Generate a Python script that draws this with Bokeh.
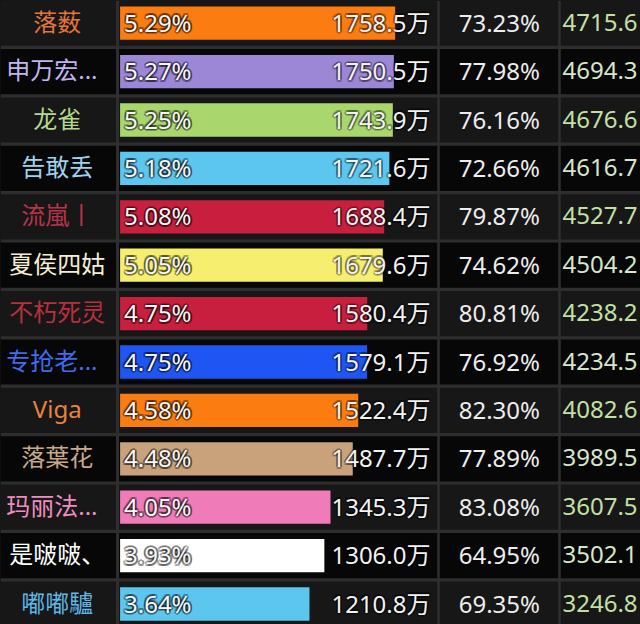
from bokeh.plotting import figure
from bokeh.models import Range1d, ColumnDataSource
from bokeh.embed import file_html
from bokeh.resources import INLINE
from bokeh.core.properties import value

# ---------------- data ----------------
names = ["落薮", "申万宏...", "龙雀", "告敢丢", "流嵐丨", "夏侯四姑", "不朽死灵",
         "专抢老...", "Viga", "落葉花", "玛丽法...", "是啵啵、", "嘟嘟驢"]
share = [5.29, 5.27, 5.25, 5.18, 5.08, 5.05, 4.75, 4.75, 4.58, 4.48, 4.05, 3.93, 3.64]
amount = [1758.5, 1750.5, 1743.9, 1721.6, 1688.4, 1679.6, 1580.4, 1579.1,
          1522.4, 1487.7, 1345.3, 1306.0, 1210.8]
rate = [73.23, 77.98, 76.16, 72.66, 79.87, 74.62, 80.81, 76.92, 82.30,
        77.89, 83.08, 64.95, 69.35]
last = [4715.6, 4694.3, 4676.6, 4616.7, 4527.7, 4504.2, 4238.2, 4234.5,
        4082.6, 3989.5, 3607.5, 3502.1, 3246.8]

name_colors = ["#e2743c", "#c2b4ee", "#b6d78e", "#9ed2ee", "#b8344a", "#f4efd2",
               "#b82f40", "#3f6df0", "#e8823e", "#c8a88a", "#ee8ec0", "#ffffff", "#5fb7e6"]
bar_colors = ["#fb7d12", "#9b87d6", "#a9d76e", "#5cc6ee", "#c91f3f", "#f6ee6e",
              "#c91f3f", "#1f56f3", "#fb7d12", "#c9a27c", "#ef7cb8", "#ffffff", "#5cc6ee"]

# ---------------- layout constants ----------------
W, H = 640, 624
X0 = 119.6        # pixel where bars start
SCALE = 0.1564    # pixels per 万
ROW0 = 22.7       # centre of first row, px
ROWH = 48.4       # row pitch, px
SEP = "#2e2e2e"
BG_EVEN = "#171717"
BG_ODD = "#070707"
FONT = "Noto Sans, Noto Sans CJK SC"


def dx(px):
    return (px - X0) / SCALE


n = len(names)
rows = list(range(n))

p = figure(width=W, height=H, output_backend="svg", toolbar_location=None,
           x_range=Range1d(dx(0), dx(W)),
           y_range=Range1d((H - ROW0) / ROWH, -ROW0 / ROWH),
           x_axis_location=None, y_axis_location=None, min_border=0)
p.grid.visible = False
p.outline_line_color = None
p.background_fill_color = SEP
p.border_fill_color = SEP

# cell backgrounds
col_edges = [(-10, 115.5), (118.5, 436.7), (439.3, 557.7), (560.3, 660)]
half = 0.5 - 1.6 / ROWH
cl, cr, ct, cb, cc = [], [], [], [], []
for i in rows:
    for a, b in col_edges:
        cl.append(dx(a)); cr.append(dx(b))
        ct.append(i - half); cb.append(i + half)
        cc.append(BG_EVEN if i % 2 == 0 else BG_ODD)
p.quad(left=cl, right=cr, top=ct, bottom=cb, fill_color=cc, line_color=None)

trunc = [nm.endswith("...") for nm in names]
src = ColumnDataSource(dict(
    y=rows,
    name=names,
    name_color=name_colors,
    bar_color=bar_colors,
    amount=amount,
    share_txt=[f"{v:.2f}%" for v in share],
    amount_txt=[f"{v:.1f}万" for v in amount],
    rate_txt=[f"{v:.2f}%" for v in rate],
    last_txt=[f"{v:.1f}" for v in last],
    last_color=["#c3e0a4" if i % 2 == 0 else "#d6e6c9" for i in rows],
    name_x=[dx(97) if t else dx(56.7) for t in trunc],
    name_align=["right" if t else "center" for t in trunc],
))

# bars
p.hbar(y="y", left=0, right="amount", height=33.3 / ROWH, fill_color="bar_color",
       line_color=None, source=src)

# names
p.text(x="name_x", y="y", text="name", text_color="name_color", text_align="name_align",
       text_baseline="middle", text_font=value(FONT), text_font_size="24px",
       y_offset=-2, source=src)

# soft shadows for texts drawn over the bars
offs = [(-2, 0), (2, 0), (0, -2), (0, 2), (-1.5, -1.5), (1.5, -1.5), (-1.5, 1.5), (1.5, 1.5)]
for ox, oy in offs:
    p.text(x=dx(123.5), y="y", text="share_txt", text_color="#000000", text_alpha=0.3,
           text_align="left", text_baseline="middle", text_font=value(FONT),
           text_font_size="24px", x_offset=ox, y_offset=oy - 1, source=src)
    p.text(x=dx(430), y="y", text="amount_txt", text_color="#000000", text_alpha=0.22,
           text_align="right", text_baseline="middle", text_font=value(FONT),
           text_font_size="24px", x_offset=ox, y_offset=oy - 1, source=src)

p.text(x=dx(123.5), y="y", text="share_txt", text_color="#f6f6f6", text_align="left",
       text_baseline="middle", text_font=value(FONT), text_font_size="24px",
       y_offset=-1, source=src)
p.text(x=dx(430), y="y", text="amount_txt", text_color="#f2f2f2", text_align="right",
       text_baseline="middle", text_font=value(FONT), text_font_size="24px",
       y_offset=-1, source=src)
p.text(x=dx(539.5), y="y", text="rate_txt", text_color="#ededed", text_align="right",
       text_baseline="middle", text_font=value(FONT), text_font_size="24px",
       y_offset=-1, source=src)
p.text(x=dx(562), y="y", text="last_txt", text_color="last_color", text_align="left",
       text_baseline="middle", text_font=value(FONT), text_font_size="24px",
       y_offset=-1, source=src)

html = file_html(p, INLINE)
html = html.replace("</head>",
                    "<style>html,body{margin:0;padding:0;background:#000;overflow:hidden;}</style></head>", 1)
open("out.html", "w").write(html)
